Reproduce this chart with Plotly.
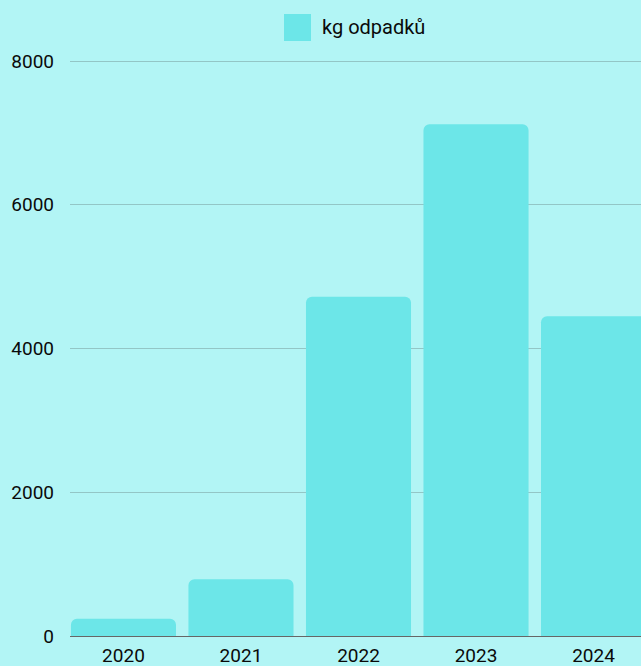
import plotly.graph_objects as go

years = ["2020", "2021", "2022", "2023", "2024"]
kg_odpadku = [240, 790, 4720, 7120, 4450]
series_name = "kg odpadků"
y_ticks = [0, 2000, 4000, 6000, 8000]

BG = "#b2f5f5"
BAR = "#6ce6e8"
FONT = "Roboto"

fig = go.Figure()
fig.add_trace(go.Bar(x=years, y=kg_odpadku, name=series_name, marker=dict(color=BAR, line=dict(width=0)),
                     showlegend=False, hoverinfo="skip"))

fig.update_layout(
    width=641, height=666,
    paper_bgcolor=BG, plot_bgcolor=BG,
    margin=dict(l=70, r=0, t=60, b=30),
    bargap=0.106,
    barcornerradius=6,
    font=dict(family=FONT, size=19, color="#0a0a0a"),
    xaxis=dict(type="category", range=[-0.455, 4.404], showgrid=False, ticks="",
               ticklabelstandoff=6, showline=False, zeroline=False, layer="below traces"),
    yaxis=dict(range=[0, 8014], tickvals=y_ticks, ticktext=[str(v) for v in y_ticks],
               showgrid=True, gridcolor="#93c6c6", gridwidth=1,
               zeroline=True, zerolinecolor="#666666", zerolinewidth=1,
               ticks="", ticklabelstandoff=15, showline=False, layer="below traces"),
)

# legend drawn as swatch + label centered above plot area
fig.add_shape(type="rect", xref="paper", yref="paper",
              x0=(284 - 70) / 571, x1=(311 - 70) / 571,
              y0=1 + (60 - 41) / 576, y1=1 + (60 - 14) / 576,
              fillcolor=BAR, line=dict(width=0), layer="above")
fig.add_annotation(text=series_name, xref="paper", yref="paper",
                   x=(322 - 70) / 571, y=1 + (60 - 27.5) / 576,
                   xanchor="left", yanchor="middle", showarrow=False,
                   xshift=-2,
                   font=dict(family=FONT, size=20, color="#0a0a0a"))

fig.write_html("out.html", config={"displayModeBar": False},
               post_script="document.body.style.margin='0';document.body.style.background='" + BG + "';")
